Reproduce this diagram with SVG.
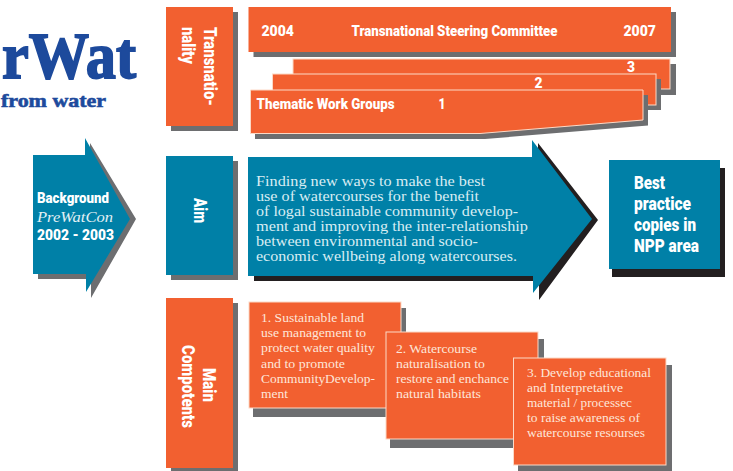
<svg xmlns="http://www.w3.org/2000/svg" width="733" height="471" viewBox="0 0 733 471">
<style>
.o{fill:#f26030}
.ol{fill:#f26030;stroke:#fcd9c6;stroke-width:1}
.t{fill:#0080a7}
.g{fill:#6d6e70}
.k{fill:#231f20}
.b{font-family:"Roboto","Liberation Sans",sans-serif;font-weight:900;fill:#fff;font-size:15.500px}
.bb{font-size:18.500px}
.v{font-size:17.500px}
.s{font-family:"Liberation Serif",serif;fill:#fde6da;font-size:13.500px}
.a{font-family:"Liberation Serif",serif;fill:#d8edf3;font-size:15px}
.l{font-family:"Liberation Serif",serif;font-weight:700;fill:#1d4a9c}
</style>
<rect width="733" height="471" fill="#fff"/>
<g id="logo">
<text class="l" x="136" y="78" font-size="66" text-anchor="end" stroke="#1d4a9c" stroke-width="1.800" textLength="134" lengthAdjust="spacingAndGlyphs">rWat</text>
<text class="l" x="1" y="107" font-size="19" stroke="#1d4a9c" stroke-width=".6" textLength="105" lengthAdjust="spacingAndGlyphs">from water</text>
</g>
<g id="transnationality">
<rect class="g" x="171" y="12" width="67" height="119"/>
<rect class="o" x="166" y="7" width="67" height="119"/>
<text class="b v" transform="translate(204,27) rotate(90)" textLength="79" lengthAdjust="spacingAndGlyphs">Transnatio-</text>
<text class="b v" transform="translate(182,27) rotate(90)" textLength="37" lengthAdjust="spacingAndGlyphs">nality</text>
</g>
<g id="steering-committee">
<rect class="g" x="253.500" y="12" width="422.500" height="45"/>
<rect class="o" x="248.500" y="7" width="422.500" height="45"/>
<text class="b" x="261.500" y="36" textLength="32.500" lengthAdjust="spacingAndGlyphs">2004</text>
<text class="b" x="351.500" y="36" textLength="206" lengthAdjust="spacingAndGlyphs">Transnational Steering Committee</text>
<text class="b" x="623.500" y="36" textLength="32.500" lengthAdjust="spacingAndGlyphs">2007</text>
</g>
<g id="work-group-3">
<rect class="g" x="298" y="64" width="378" height="31"/>
<rect class="ol" x="293" y="59" width="377" height="30"/>
<text class="b" x="627" y="71.500" textLength="8" lengthAdjust="spacingAndGlyphs">3</text>
</g>
<g id="work-group-2">
<rect class="g" x="277" y="79" width="384" height="31"/>
<rect class="ol" x="272.500" y="74" width="383.500" height="31"/>
<text class="b" x="534.500" y="87.500" textLength="8" lengthAdjust="spacingAndGlyphs">2</text>
</g>
<g id="work-group-1">
<polygon class="g" points="255,95 648,95 648,125.500 485,139 255,139"/>
<polygon class="ol" points="250.500,90 643,90 643,120 480,133.500 250.500,133.500"/>
<text class="b" x="256.500" y="109" textLength="138" lengthAdjust="spacingAndGlyphs">Thematic Work Groups</text>
<text class="b" x="438.500" y="109" textLength="7" lengthAdjust="spacingAndGlyphs">1</text>
</g>
<g id="background">
<polygon class="g" points="38,160 90,160 90,143 136,219 91,298 91,279 38,279"/>
<polygon class="t" points="33,155 85,155 85,138 130,219 86,292 86,274 33,274"/>
<text class="b" x="37" y="203" textLength="72" lengthAdjust="spacingAndGlyphs">Background</text>
<text x="37" y="222" font-family="Liberation Serif,serif" font-style="italic" font-size="15.500px" fill="#e4f1f5" textLength="76" lengthAdjust="spacingAndGlyphs">PreWatCon</text>
<text class="b" x="37" y="240" textLength="77" lengthAdjust="spacingAndGlyphs">2002 - 2003</text>
</g>
<g id="aim">
<rect class="g" x="171" y="161" width="67" height="119"/>
<rect class="t" x="166" y="156" width="67" height="119"/>
<text class="b v" transform="translate(194,198) rotate(90)" textLength="25" lengthAdjust="spacingAndGlyphs">Aim</text>
</g>
<g id="aim-arrow">
<polygon class="k" points="254,163 538,163 538,143 598,220 539,300 539,281 254,281"/>
<polygon class="t" points="248,157 532,157 532,140 592,219 533,293 533,276 248,276"/>
<text class="a" x="256" y="186" textLength="229" lengthAdjust="spacingAndGlyphs">Finding new ways to make the best</text>
<text class="a" x="256" y="201" textLength="223" lengthAdjust="spacingAndGlyphs">use of watercourses for the benefit</text>
<text class="a" x="256" y="216" textLength="262" lengthAdjust="spacingAndGlyphs">of logal sustainable community develop-</text>
<text class="a" x="256" y="231" textLength="272" lengthAdjust="spacingAndGlyphs">ment and improving the inter-relationship</text>
<text class="a" x="256" y="246" textLength="222" lengthAdjust="spacingAndGlyphs">between environmental and socio-</text>
<text class="a" x="256" y="261" textLength="261" lengthAdjust="spacingAndGlyphs">economic wellbeing along watercourses.</text>
</g>
<g id="best-practice">
<rect class="k" x="612" y="168" width="113" height="109"/>
<rect class="t" x="609" y="160" width="111" height="109"/>
<text class="b bb" x="634" y="189" textLength="31" lengthAdjust="spacingAndGlyphs">Best</text>
<text class="b bb" x="634" y="210" textLength="57" lengthAdjust="spacingAndGlyphs">practice</text>
<text class="b bb" x="634" y="231" textLength="62" lengthAdjust="spacingAndGlyphs">copies in</text>
<text class="b bb" x="634" y="252" textLength="65" lengthAdjust="spacingAndGlyphs">NPP area</text>
</g>
<g id="main-components">
<rect class="g" x="171" y="303" width="67" height="168"/>
<rect class="o" x="166" y="298" width="67" height="170"/>
<text class="b v" transform="translate(203,368) rotate(90)" textLength="34" lengthAdjust="spacingAndGlyphs">Main</text>
<text class="b v" transform="translate(182,345) rotate(90)" textLength="83" lengthAdjust="spacingAndGlyphs">Compotents</text>
</g>
<g id="component-1">
<rect class="g" x="253" y="308" width="153" height="109"/>
<rect class="ol" x="249" y="302" width="152" height="106"/>
<text class="s" x="261" y="322" textLength="103" lengthAdjust="spacingAndGlyphs">1. Sustainable land</text>
<text class="s" x="261" y="337" textLength="105" lengthAdjust="spacingAndGlyphs">use management to</text>
<text class="s" x="261" y="352" textLength="114" lengthAdjust="spacingAndGlyphs">protect water quality</text>
<text class="s" x="261" y="368" textLength="84" lengthAdjust="spacingAndGlyphs">and to promote</text>
<text class="s" x="261" y="383" textLength="114" lengthAdjust="spacingAndGlyphs">CommunityDevelop-</text>
<text class="s" x="261" y="398" textLength="27" lengthAdjust="spacingAndGlyphs">ment</text>
</g>
<g id="component-2">
<rect class="g" x="390" y="339" width="154" height="109"/>
<rect class="ol" x="386" y="332" width="152" height="107"/>
<text class="s" x="396" y="353" textLength="81" lengthAdjust="spacingAndGlyphs">2. Watercourse</text>
<text class="s" x="396" y="368" textLength="89" lengthAdjust="spacingAndGlyphs">naturalisation to</text>
<text class="s" x="396" y="383" textLength="113" lengthAdjust="spacingAndGlyphs">restore and enchance</text>
<text class="s" x="396" y="398" textLength="85" lengthAdjust="spacingAndGlyphs">natural habitats</text>
</g>
<g id="component-3">
<rect class="g" x="518" y="365" width="154" height="106"/>
<rect class="ol" x="513.500" y="358" width="152.500" height="107"/>
<text class="s" x="527" y="377" textLength="124" lengthAdjust="spacingAndGlyphs">3. Develop educational</text>
<text class="s" x="527" y="392" textLength="96" lengthAdjust="spacingAndGlyphs">and Interpretative</text>
<text class="s" x="527" y="407" textLength="105" lengthAdjust="spacingAndGlyphs">material / processec</text>
<text class="s" x="527" y="422" textLength="113" lengthAdjust="spacingAndGlyphs">to raise awareness of</text>
<text class="s" x="527" y="437" textLength="118" lengthAdjust="spacingAndGlyphs">watercourse resourses</text>
</g>
</svg>
